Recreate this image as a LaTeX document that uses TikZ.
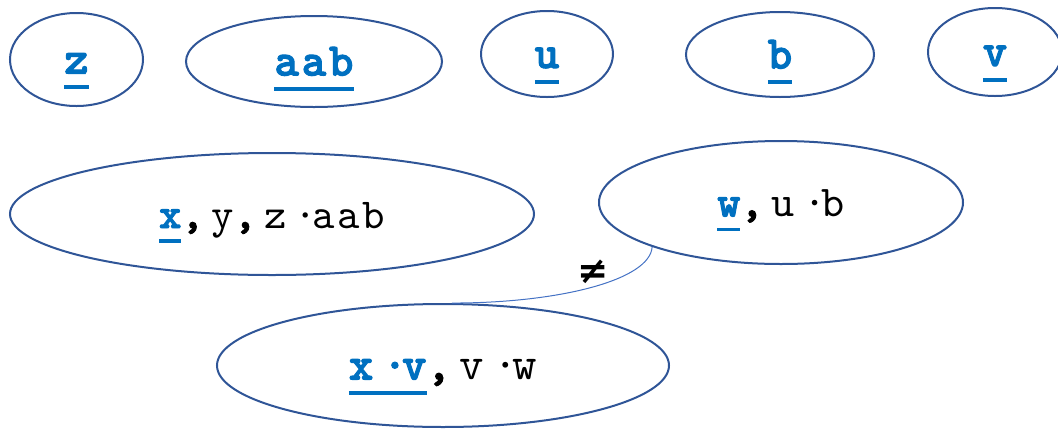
\documentclass[tikz,border=0pt]{standalone}
\usepackage{fontspec}
\setmonofont{lmmono10-regular.otf}[BoldFont=lmmonolt10-bold.otf, BoldFeatures={FakeBold=2.2}, LetterSpace=6]
\newfontfamily\symfont{DejaVu Sans}
\usetikzlibrary{shapes.geometric}

\definecolor{edgeblue}{HTML}{2F5597}
\definecolor{textblue}{HTML}{0070C0}
\definecolor{linkblue}{HTML}{4472C4}

\newcommand\fsz[1]{\fontsize{#1}{#1}\selectfont\ttfamily}
\newcommand\ulvar[1]{\setbox0\hbox{\textcolor{textblue}{\bfseries #1}}\rlap{\copy0}\textcolor{textblue}{\rule[-0.34em]{\wd0}{0.09em}}}
\newcommand\cdt{\kern.2em·\kern-.11em}
\newcommand\cma{\textbf{,}\kern.12em}

\tikzset{
  elli/.style={ellipse, draw=edgeblue, line width=1.5pt, inner sep=0pt, text height=24pt, text depth=3pt},
  sz/.style 2 args={minimum width=#1*0.75pt, minimum height=#2*0.75pt},
}

\begin{document}
\begin{tikzpicture}[x=0.75pt, y=-0.75pt]
  \useasboundingbox (0,0) rectangle (1058,433);

  \node[elli, sz={133}{93}, font=\fsz{35}] (z) at (76.5,59.5) {\ulvar{z}};
  \node[elli, sz={256}{91}, font=\fsz{35}] (aab) at (314,61.5) {\ulvar{aab}};
  \node[elli, sz={132}{86}, font=\fsz{35}] (u) at (547,54) {\ulvar{u}};
  \node[elli, sz={188}{85}, font=\fsz{35}] (b) at (780,54.5) {\ulvar{b}};
  \node[elli, sz={134}{88}, font=\fsz{35}] (v) at (995,52) {\ulvar{v}};

  \node[elli, sz={524}{122}, font=\fsz{32}] (xyz) at (272,214) {\ulvar{x}\cma y\cma z\cdt aab};
  \node[elli, sz={364}{123}, font=\fsz{33}] (w) at (781,202.5) {\ulvar{w}\cma u\cdt b};
  \node[elli, sz={452}{123}, font=\fsz{35}] (xv) at (443,365.5) {\ulvar{x\cdt v}\cma v\cdt w};

  \draw[linkblue, line width=0.75pt] (xv.82) .. controls +(108,0) and +(-2,33) .. (w.199);
  \node[font=\symfont\bfseries\fontsize{28}{28}\selectfont] (neq) at (593,272) {≠};
\end{tikzpicture}
\end{document}
